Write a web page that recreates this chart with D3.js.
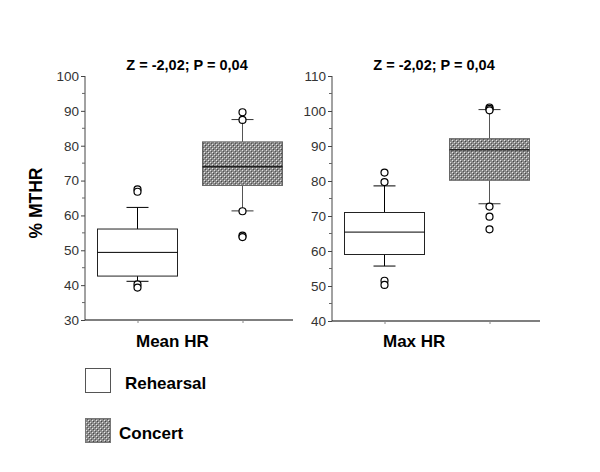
<!DOCTYPE html>
<html><head><meta charset="utf-8">
<script src="https://cdn.jsdelivr.net/npm/d3@7"></script>
<style>body{margin:0;background:#fff}svg{display:block}</style>
</head><body>
<svg id="c" width="600" height="472"></svg>
<script>
const groups = ["Rehearsal", "Concert"];
const panels = ["Mean HR", "Max HR"];
const titles = ["Z = -2,02; P = 0,04", "Z = -2,02; P = 0,04"];
const yDomains = [[30, 100], [40, 110]];
const yTicks = [[30,40,50,60,70,80,90,100],[40,50,60,70,80,90,100,110]];
// [lowWhisker, Q1, median, Q3, highWhisker]
const meanRehearsal = [41.1, 42.6, 49.4, 56.1, 62.3];
const meanConcert = [61.3, 68.6, 74.0, 81.1, 87.5];
const maxRehearsal = [55.7, 59.0, 65.4, 71.0, 78.6];
const maxConcert = [73.5, 80.2, 88.9, 92.1, 100.4];
const meanRehearsalOut = [67.5, 66.8, 40.2, 39.3];
const meanConcertOut = [89.6, 87.4, 61.2, 54.2, 53.8];
const maxRehearsalOut = [82.4, 79.7, 51.5, 50.3];
const maxConcertOut = [101.0, 100.6, 100.2, 72.7, 69.8, 66.2];

const stats = [[meanRehearsal, meanConcert], [maxRehearsal, maxConcert]];
const outs = [[meanRehearsalOut, meanConcertOut], [maxRehearsalOut, maxConcertOut]];

const svg = d3.select("#c");
const defs = svg.append("defs");
const pat = defs.append("pattern").attr("id","dots").attr("patternUnits","userSpaceOnUse")
  .attr("width",4).attr("height",4);
pat.append("rect").attr("width",4).attr("height",4).attr("fill","#8c8c8c");
pat.append("rect").attr("x",0).attr("y",0).attr("width",1).attr("height",1).attr("fill","#e8e8e8");
pat.append("rect").attr("x",2).attr("y",2).attr("width",1).attr("height",1).attr("fill","#e0e0e0");
pat.append("rect").attr("x",1).attr("y",1).attr("width",1).attr("height",1).attr("fill","#444");
pat.append("rect").attr("x",3).attr("y",3).attr("width",1).attr("height",1).attr("fill","#555");

const panelX = [[85, 295], [332, 542]];
const plotY = [[320, 76], [321, 76]];
const boxW = 80, capW = 22;
const font = "Arial, 'Liberation Sans', sans-serif";

panels.forEach((p, i) => {
  const x = d3.scalePoint().domain(groups).range(panelX[i]).padding(0.5);
  const y = d3.scaleLinear().domain(yDomains[i]).range(plotY[i]);
  const g = svg.append("g");
  // y axis
  const ya = g.append("g").attr("transform", `translate(${panelX[i][0]},0)`)
    .call(d3.axisLeft(y).tickValues(yTicks[i]).tickSize(4).tickPadding(2).tickFormat(d3.format("d")));
  ya.select(".domain").attr("stroke","#444").attr("d", `M0,${plotY[i][0]}V${plotY[i][1]}`);
  ya.selectAll(".tick line").attr("stroke","#444");
  ya.selectAll("text").attr("font-family", font).attr("font-size", 13.5).attr("fill","#333");
  const minor = d3.range(yDomains[i][0]+5, yDomains[i][1], 10);
  g.append("g").selectAll("line").data(minor).join("line")
    .attr("x1", panelX[i][0]-3).attr("x2", panelX[i][0]).attr("y1", d=>y(d)).attr("y2", d=>y(d))
    .attr("stroke","#666");
  // x axis
  const xa = g.append("g").attr("transform", `translate(0,${plotY[i][0]})`)
    .call(d3.axisBottom(x).tickSize(3).tickFormat(""));
  xa.select(".domain").attr("stroke","#000").attr("stroke-width",1.2).attr("d", `M${panelX[i][0]},0H${panelX[i][1]-2}`);
  xa.selectAll(".tick line").attr("stroke","#888");
  // boxes
  groups.forEach((gr, j) => {
    const s = stats[i][j];
    const cx = x(gr);
    const isC = j === 1;
    const lc = isC ? "#555" : "#000";
    const bg = g.append("g");
    bg.append("line").attr("x1",cx).attr("x2",cx).attr("y1",y(s[0])).attr("y2",y(s[1])).attr("stroke",lc);
    bg.append("line").attr("x1",cx).attr("x2",cx).attr("y1",y(s[3])).attr("y2",y(s[4])).attr("stroke",lc);
    [s[0], s[4]].forEach(v => bg.append("line").attr("x1",cx-capW/2).attr("x2",cx+capW/2)
      .attr("y1",y(v)).attr("y2",y(v)).attr("stroke",isC?"#333":"#000"));
    bg.append("rect").attr("x",cx-boxW/2).attr("width",boxW).attr("y",y(s[3])).attr("height",y(s[1])-y(s[3]))
      .attr("fill", isC ? "url(#dots)" : "#fff").attr("stroke", isC ? "#666" : "#222");
    bg.append("line").attr("x1",cx-boxW/2).attr("x2",cx+boxW/2).attr("y1",y(s[2])).attr("y2",y(s[2]))
      .attr("stroke", isC ? "#222" : "#000").attr("stroke-width", isC ? 1.5 : 1);
    bg.selectAll("circle").data(outs[i][j]).join("circle")
      .attr("cx",cx).attr("cy",d=>y(d)).attr("r",3.5).attr("fill","#fff").attr("stroke","#000").attr("stroke-width",1.2);
  });
  // title
  g.append("text").attr("x", (panelX[i][0]+panelX[i][1])/2 - 3).attr("y", 70)
    .attr("text-anchor","middle").attr("font-family",font).attr("font-weight","bold").attr("font-size",14.5)
    .text(titles[i]);
  g.append("text").attr("x", panelX[i][0] + 51).attr("y", 347)
    .attr("font-family",font).attr("font-weight","bold").attr("font-size",17).text(p);
});

svg.append("text").attr("transform","translate(42,203) rotate(-90)").attr("text-anchor","middle")
  .attr("font-family",font).attr("font-weight","bold").attr("font-size",17.5).text("% MTHR");

// legend
const leg = [{g: groups[0], y: 368, tx: 125}, {g: groups[1], y: 418, tx: 119}];
leg.forEach((l, k) => {
  svg.append("rect").attr("x",85.5).attr("y",l.y+0.5).attr("width",25).attr("height",24)
    .attr("fill", k ? "url(#dots)" : "#fff").attr("stroke", k ? "#777" : "#555");
  svg.append("text").attr("x", l.tx).attr("y", l.y + 21).attr("font-family",font)
    .attr("font-weight","bold").attr("font-size",17).text(l.g);
});
</script>
</body></html>
